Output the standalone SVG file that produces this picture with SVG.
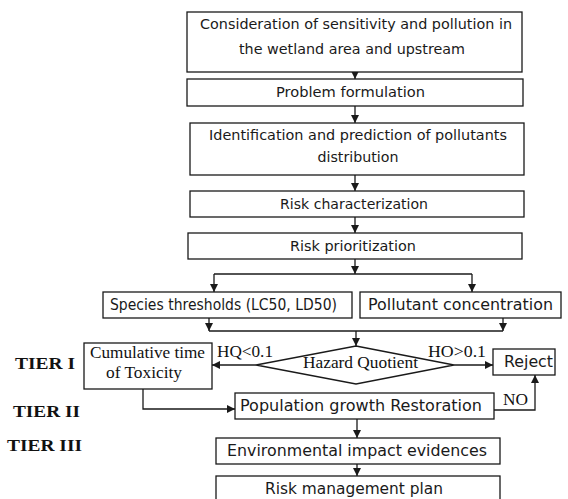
<svg xmlns="http://www.w3.org/2000/svg" width="568" height="499" viewBox="0 0 568 499">
<style>
.box{fill:#fff;stroke:#1a1a1a;stroke-width:1.3}
.ln{fill:none;stroke:#1a1a1a;stroke-width:1.3}
.t{font-family:"DejaVu Sans","Liberation Sans",sans-serif;font-size:14.5px;fill:#1a1a1a;text-anchor:middle}
.tl{font-family:"DejaVu Sans","Liberation Sans",sans-serif;font-size:15.5px;fill:#1a1a1a;text-anchor:middle}
.s{font-family:"Liberation Serif","Times New Roman",serif;font-size:16px;fill:#111}
.tier{font-family:"Liberation Serif","Times New Roman",serif;font-size:16px;font-weight:bold;fill:#111}
</style>
<defs>
<marker id="ah" viewBox="0 0 10 10" refX="10" refY="5" markerWidth="8" markerHeight="8" markerUnits="userSpaceOnUse" orient="auto">
<path d="M0,0 L10,5 L0,10 Z" fill="#1a1a1a"/>
</marker>
</defs>
<rect width="568" height="499" fill="#fff"/>
<g id="connectors">
<line class="ln" x1="355" y1="72" x2="355" y2="79" marker-end="url(#ah)"/>
<line class="ln" x1="355" y1="106" x2="355" y2="123" marker-end="url(#ah)"/>
<line class="ln" x1="355" y1="175" x2="355" y2="191" marker-end="url(#ah)"/>
<line class="ln" x1="355" y1="217" x2="355" y2="233" marker-end="url(#ah)"/>
<line class="ln" x1="355" y1="259" x2="355" y2="274" marker-end="url(#ah)"/>
<line class="ln" x1="214" y1="274" x2="472" y2="274"/>
<line class="ln" x1="214" y1="274" x2="214" y2="292" marker-end="url(#ah)"/>
<line class="ln" x1="472" y1="274" x2="472" y2="292" marker-end="url(#ah)"/>
<line class="ln" x1="209" y1="318" x2="209" y2="331" marker-end="url(#ah)"/>
<line class="ln" x1="503" y1="318" x2="503" y2="331" marker-end="url(#ah)"/>
<line class="ln" x1="209" y1="331" x2="503" y2="331"/>
<line class="ln" x1="356" y1="331" x2="356" y2="346" marker-end="url(#ah)"/>
<line class="ln" x1="256" y1="365" x2="212" y2="365" marker-end="url(#ah)"/>
<line class="ln" x1="454" y1="365" x2="493" y2="365" marker-end="url(#ah)"/>
<polyline class="ln" points="143,389 143,409 235,409" marker-end="url(#ah)"/>
<polyline class="ln" points="494,410 535,410 535,375" marker-end="url(#ah)"/>
<line class="ln" x1="357" y1="419" x2="357" y2="438" marker-end="url(#ah)"/>
<line class="ln" x1="357" y1="464" x2="357" y2="476" marker-end="url(#ah)"/>
<text class="s" x="217" y="357" textLength="56" lengthAdjust="spacingAndGlyphs">HQ&lt;0.1</text>
<text class="s" x="428" y="357" textLength="58" lengthAdjust="spacingAndGlyphs">HO&gt;0.1</text>
<text class="s" x="503" y="405" textLength="25" lengthAdjust="spacingAndGlyphs">NO</text>
</g>
<g id="n1">
<rect class="box" x="187" y="12" width="335" height="60"/>
<text class="t" x="356" y="29" textLength="312" lengthAdjust="spacingAndGlyphs">Consideration of sensitivity and pollution in</text>
<text class="t" x="352" y="54" textLength="226" lengthAdjust="spacingAndGlyphs">the wetland area and upstream</text>
</g>
<g id="n2">
<rect class="box" x="187" y="79" width="336" height="27"/>
<text class="t" x="350.5" y="97" textLength="149" lengthAdjust="spacingAndGlyphs">Problem formulation</text>
</g>
<g id="n3">
<rect class="box" x="190" y="123" width="334" height="52"/>
<text class="t" x="358" y="140" textLength="298" lengthAdjust="spacingAndGlyphs">Identification and prediction of pollutants</text>
<text class="t" x="358" y="162" textLength="81" lengthAdjust="spacingAndGlyphs">distribution</text>
</g>
<g id="n4">
<rect class="box" x="190" y="191" width="334" height="26"/>
<text class="t" x="354" y="209" textLength="148" lengthAdjust="spacingAndGlyphs">Risk characterization</text>
</g>
<g id="n5">
<rect class="box" x="188" y="233" width="334" height="26"/>
<text class="t" x="353" y="251" textLength="126" lengthAdjust="spacingAndGlyphs">Risk prioritization</text>
</g>
<g id="n6">
<rect class="box" x="103" y="292" width="249" height="26"/>
<text class="tl" x="223.5" y="310" textLength="227" lengthAdjust="spacingAndGlyphs">Species thresholds (LC50, LD50)</text>
</g>
<g id="n7">
<rect class="box" x="360" y="292" width="201" height="26"/>
<text class="tl" x="460.5" y="310" textLength="185" lengthAdjust="spacingAndGlyphs">Pollutant concentration</text>
</g>
<g id="n8">
<polygon class="box" points="356,346 454,365 356,384 256,365"/>
<text class="s" x="303" y="368" textLength="115" lengthAdjust="spacingAndGlyphs">Hazard Quotient</text>
</g>
<g id="n9">
<rect class="box" x="84" y="343" width="128" height="46"/>
<text class="s" x="90" y="358" textLength="115" lengthAdjust="spacingAndGlyphs">Cumulative time</text>
<text class="s" x="106" y="378" textLength="76" lengthAdjust="spacingAndGlyphs">of Toxicity</text>
</g>
<g id="n10">
<rect class="box" x="493" y="349" width="62" height="26"/>
<text class="tl" x="528.5" y="367" textLength="49" lengthAdjust="spacingAndGlyphs">Reject</text>
</g>
<g id="n11">
<rect class="box" x="235" y="393" width="259" height="26"/>
<text class="tl" x="361" y="411" textLength="242" lengthAdjust="spacingAndGlyphs">Population growth Restoration</text>
</g>
<g id="n12">
<rect class="box" x="216" y="438" width="284" height="26"/>
<text class="tl" x="357" y="456" textLength="260" lengthAdjust="spacingAndGlyphs">Environmental impact evidences</text>
</g>
<g id="n13">
<rect class="box" x="216" y="476" width="284" height="30"/>
<text class="tl" x="354" y="494" textLength="178" lengthAdjust="spacingAndGlyphs">Risk management plan</text>
</g>
<g id="tiers">
<text class="tier" x="15" y="369" textLength="60" lengthAdjust="spacingAndGlyphs">TIER I</text>
<text class="tier" x="13" y="417" textLength="67" lengthAdjust="spacingAndGlyphs">TIER II</text>
<text class="tier" x="7" y="451" textLength="75" lengthAdjust="spacingAndGlyphs">TIER III</text>
</g>
</svg>
